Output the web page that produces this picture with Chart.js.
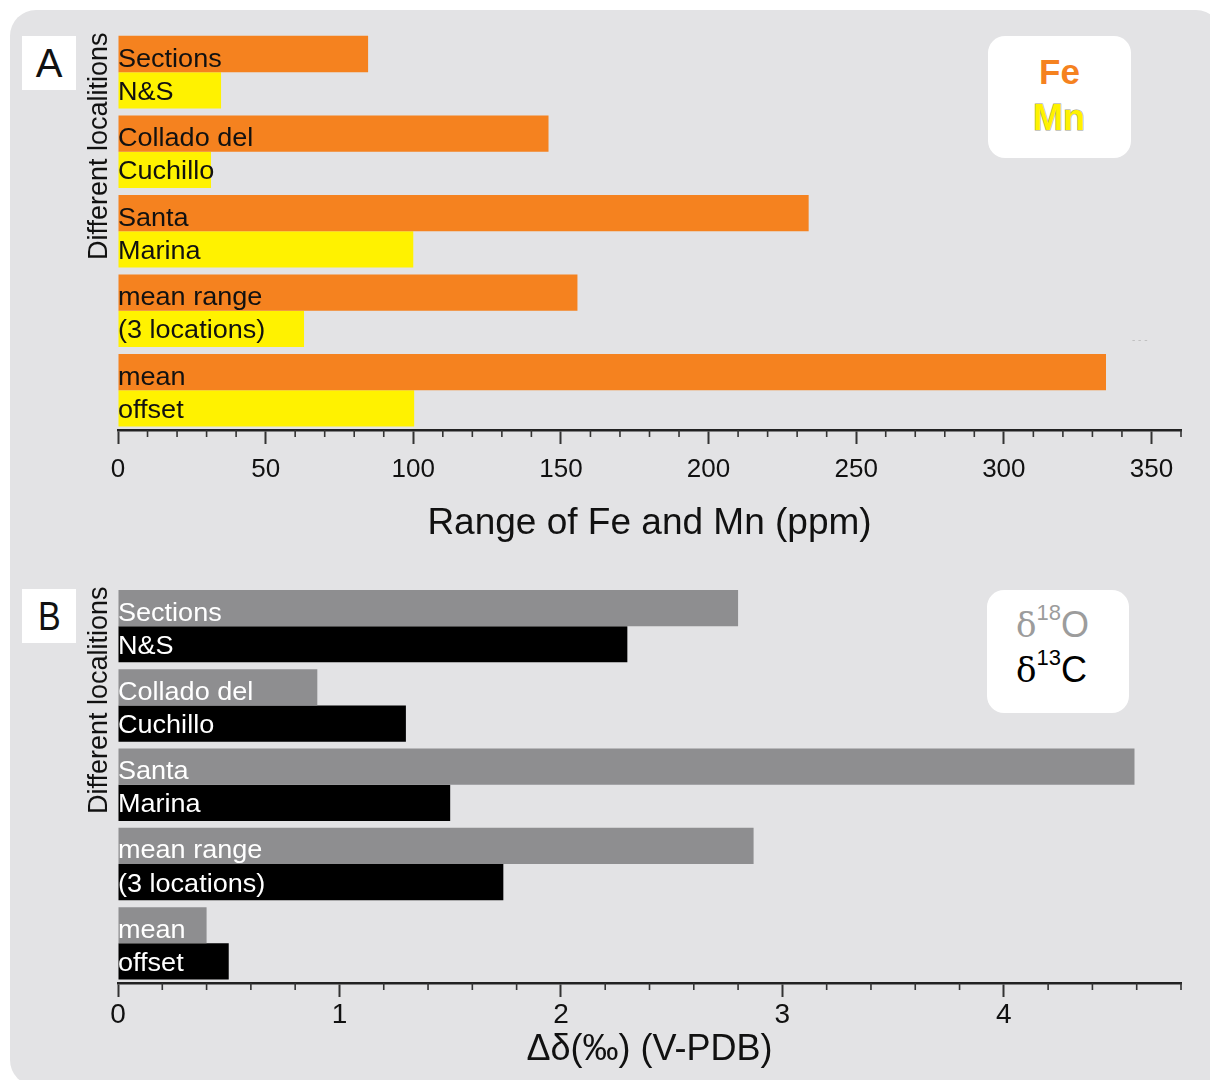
<!DOCTYPE html>
<html>
<head>
<meta charset="utf-8">
<script src="https://cdn.jsdelivr.net/npm/chart.js@4"></script>
<style>
  html,body{margin:0;padding:0;background:#fff;width:1210px;height:1080px;overflow:hidden;font-family:"Liberation Sans",Arial,sans-serif;}
  #bg{position:absolute;left:10px;top:10px;width:1212px;height:1076px;border-radius:26px;background:#e3e3e5;}
  canvas{position:absolute;left:0;}
  .letter{position:absolute;left:22px;width:54px;height:54px;background:#fff;display:flex;align-items:center;justify-content:center;color:#111;}
  .legend{position:absolute;background:#fff;border-radius:17px;}
  .lt{position:absolute;white-space:nowrap;}
</style>
</head>
<body>
<div id="bg"></div>
<canvas id="chartA" width="1210" height="560" style="top:0px;width:1210px;height:560px;"></canvas>
<canvas id="chartB" width="1210" height="520" style="top:560px;width:1210px;height:520px;"></canvas>

<div class="letter" style="top:36px;font-size:40px;">A</div>
<div class="letter" style="top:589px;font-size:40px;"><span style="display:inline-block;transform:scaleX(0.85);">B</span></div>

<div class="legend" style="left:988px;top:36px;width:143px;height:122px;"></div>
<div class="lt" style="left:1039px;top:54px;font-size:35px;line-height:35px;font-weight:bold;color:#f5821f;">Fe</div>
<div class="lt" style="left:1033px;top:100px;font-size:36px;line-height:36px;font-weight:bold;color:#fff200;-webkit-text-stroke:1px #9a9a8a;paint-order:stroke fill;">Mn</div>

<div class="legend" style="left:987px;top:590px;width:142px;height:123px;"></div>
<div class="lt" style="left:1016px;top:607px;font-size:36px;line-height:36px;color:#9c9c9c;"><span style="font-family:'DejaVu Serif',serif;font-size:34px;">δ</span><span style="font-size:22px;position:relative;top:-17px;">18</span>O</div>
<div class="lt" style="left:1016px;top:652px;font-size:36px;line-height:36px;color:#000;"><span style="font-family:'DejaVu Serif',serif;font-size:34px;">δ</span><span style="font-size:22px;position:relative;top:-17px;">13</span>C</div>

<div class="lt" style="left:1132px;top:334px;font-size:10px;color:#bdbdbd;">- - -</div>

<script>
// ---------- data ----------
const catTop    = ["Sections", "Collado del", "Santa", "mean range", "mean"];
const catBottom = ["N&S", "Cuchillo", "Marina", "(3 locations)", "offset"];

const feValues  = [84.7, 145.8, 233.9, 155.6, 334.6];
const mnValues  = [34.9, 31.5, 100.0, 63.0, 100.3];

const o18Values = [2.80, 0.90, 4.59, 2.87, 0.40];
const c13Values = [2.30, 1.30, 1.50, 1.74, 0.50];

const ticksA = {max: 360, major: 50, minor: 10};
const ticksB = {max: 4.8, major: 1, minor: 0.2};

const titleA = "Range of Fe and Mn (ppm)";
const titleB = "Δδ(‰) (V-PDB)";
const yTitle = "Different localitions";

// ---------- plugins ----------
const barText = {
  id: 'barText',
  afterDatasetsDraw(chart, args, opts) {
    const ctx = chart.ctx;
    const lines = [catTop, catBottom];
    chart.data.datasets.forEach((ds, di) => {
      const meta = chart.getDatasetMeta(di);
      meta.data.forEach((bar, i) => {
        ctx.save();
        ctx.font = '26px "Liberation Sans", Arial, sans-serif';
        ctx.fillStyle = opts.color;
        ctx.textBaseline = 'alphabetic';
        ctx.textAlign = 'left';
        ctx.translate(chart.chartArea.left, bar.y + (di === 0 ? 12.5 : 9.5));
        ctx.scale(opts.hscale, 1);
        ctx.fillText(lines[di][i], 0, 0);
        ctx.restore();
      });
    });
  }
};

const minorTicks = {
  id: 'minorTicks',
  afterDraw(chart, args, opts) {
    const s = chart.scales.x;
    const ctx = chart.ctx;
    const n = Math.round(opts.max / opts.minor);
    ctx.save();
    ctx.strokeStyle = '#333';
    ctx.lineWidth = 1.6;
    for (let k = 0; k <= n; k++) {
      const v = k * opts.minor;
      const r = v / opts.major;
      if (Math.abs(r - Math.round(r)) < 1e-6) continue;
      const x = s.getPixelForValue(v);
      ctx.beginPath();
      ctx.moveTo(x, s.top);
      ctx.lineTo(x, s.top + 7);
      ctx.stroke();
    }
    ctx.restore();
  }
};

function makeChart(id, labels, d1, d2, c1, c2, txtColor, tk, title, cfg) {
  return new Chart(document.getElementById(id), {
    type: 'bar',
    data: {
      labels: labels,
      datasets: [
        {data: d1, backgroundColor: c1, borderWidth: 0},
        {data: d2, backgroundColor: c2, borderWidth: 0}
      ]
    },
    options: {
      indexAxis: 'y',
      responsive: false,
      animation: false,
      events: [],
      barPercentage: 1.0,
      categoryPercentage: 0.913,
      layout: {padding: {left: 80, right: 29, top: cfg.padTop, bottom: 0}},
      plugins: {
        legend: {display: false},
        tooltip: {enabled: false},
        barText: {color: txtColor, hscale: cfg.hscale},
        minorTicks: tk
      },
      scales: {
        x: {
          type: 'linear',
          min: 0,
          max: tk.max,
          afterFit: s => { s.height = cfg.xHeight; },
          border: {display: true, color: '#222', width: 2.5},
          grid: {display: true, drawOnChartArea: false, drawTicks: true, tickLength: 14, tickWidth: 2, tickColor: '#333'},
          ticks: {
            stepSize: tk.major,
            includeBounds: false,
            autoSkip: false,
            maxRotation: 0,
            padding: cfg.tickPad,
            color: '#111',
            font: {family: '"Liberation Sans", Arial, sans-serif', size: cfg.tickSize}
          },
          title: {
            display: true,
            text: title,
            color: '#111',
            font: {family: '"Liberation Sans", Arial, sans-serif', size: cfg.titleSize},
            padding: {top: 0, bottom: cfg.titlePad}
          }
        },
        y: {
          type: 'category',
          afterFit: s => { s.width = 38; },
          grid: {display: false},
          border: {display: false},
          ticks: {display: false},
          title: {
            display: true,
            text: yTitle,
            align: 'end',
            color: '#111',
            font: {family: '"Liberation Sans", Arial, sans-serif', size: 27},
            padding: {top: 3, bottom: 0}
          }
        }
      }
    },
    plugins: [barText, minorTicks]
  });
}

const labels = catTop.map((t, i) => t + ' ' + catBottom[i]);

makeChart('chartA', labels, feValues, mnValues, '#f5821f', '#fff200', '#111', ticksA, titleA,
  {padTop: 32.4, xHeight: 130, tickPad: 10, tickSize: 26, titleSize: 37, titlePad: 14, hscale: 1.04});
makeChart('chartB', labels, o18Values, c13Values, '#8e8e90', '#000000', '#ffffff', ticksB, titleB,
  {padTop: 26.5, xHeight: 97, tickPad: 1, tickSize: 28, titleSize: 36, titlePad: 8, hscale: 1.04});
</script>
</body>
</html>
